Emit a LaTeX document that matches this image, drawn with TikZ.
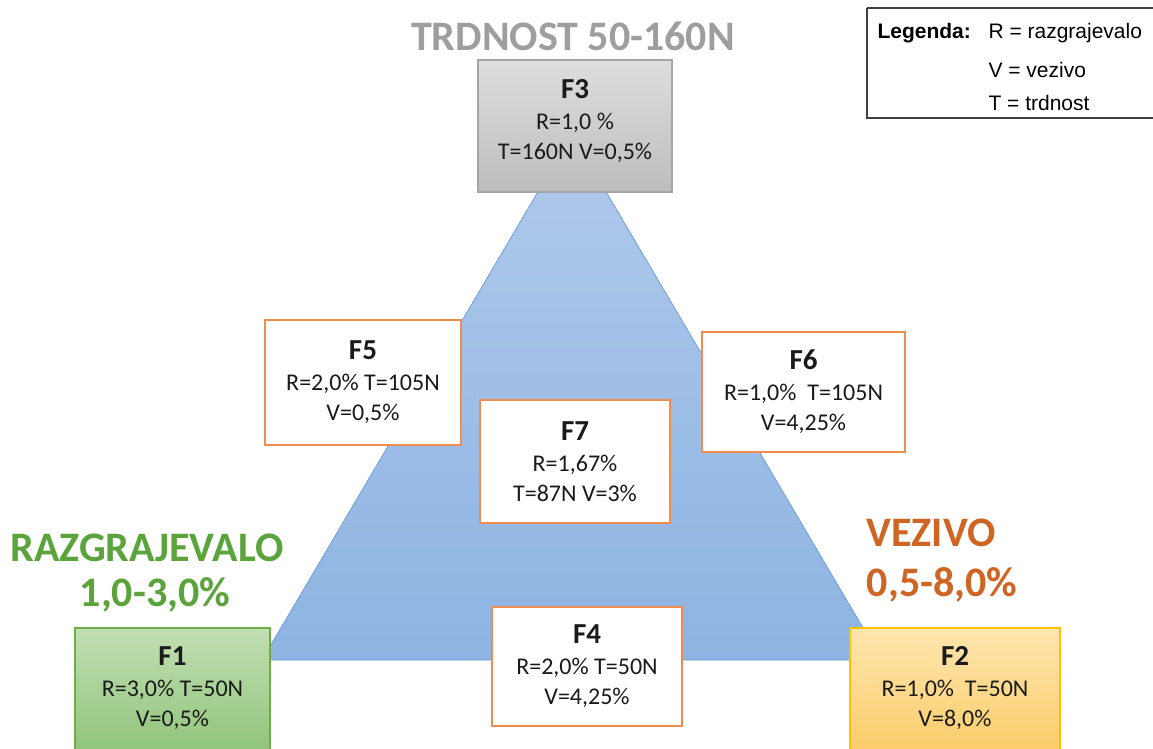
\documentclass[tikz,border=0pt]{standalone}
\usepackage{fontspec}
\setmainfont{Carlito}
\newfontfamily\arialf{Liberation Sans}
\definecolor{triTop}{HTML}{B0C9EB}
\definecolor{triBot}{HTML}{8DB4E2}
\definecolor{triLine}{HTML}{6F9FD8}
\definecolor{grTop}{HTML}{DEDEDE}
\definecolor{grBot}{HTML}{BDBDBD}
\definecolor{grLine}{HTML}{A5A5A5}
\definecolor{gnTop}{HTML}{C2DFB3}
\definecolor{gnBot}{HTML}{8FC47A}
\definecolor{gnLine}{HTML}{70AD47}
\definecolor{orTop}{HTML}{FEE6B0}
\definecolor{orBot}{HTML}{FBCC68}
\definecolor{orLine}{HTML}{FFC000}
\definecolor{boxLine}{HTML}{F08C4E}
\definecolor{titGray}{HTML}{9E9E9E}
\definecolor{titGreen}{HTML}{5BA33B}
\definecolor{titOrange}{HTML}{CF6523}
\definecolor{txt}{HTML}{1A1A1A}
\begin{document}
\begin{tikzpicture}[x=1pt,y=-1pt,
  fbox/.style={rectangle, align=center, inner sep=0pt, text=txt,
    font=\fontsize{24}{30}\selectfont, line width=1.3pt},
  wbox/.style={fbox, fill=white, draw=boxLine},
  title/.style={font=\bfseries\fontsize{42}{44}\selectfont},
  leg/.style={font=\arialf\fontsize{21}{24}\selectfont, anchor=west, text=black}
]
\newcommand{\fl}[1]{{\bfseries\fontsize{29}{34}\selectfont #1}\\[1pt]}
\useasboundingbox (0,0) rectangle (1153,749);
\fill[white] (0,0) rectangle (1153,749);

% triangle
\coordinate (apex) at (572,134);
\coordinate (bl) at (262,660);
\coordinate (br) at (882,660);
\shade[top color=triTop, bottom color=triBot, draw=triLine, line width=0.8pt]
  (apex) -- (bl) -- (br) -- cycle;

% corner boxes
\node[fbox, top color=grTop, bottom color=grBot, draw=grLine,
  minimum width=194pt, minimum height=132pt] (F3) at (575,126) {};
\node[fbox, anchor=center] (F3t) at (575,121)
  {\fl{F3}R=1,0 \%\\T=160N V=0,5\%};
\node[fbox, top color=gnTop, bottom color=gnBot, draw=gnLine,
  minimum width=195pt, minimum height=126pt] (F1) at (172.5,691) {};
\node[fbox] (F1t) at (172.5,688)
  {\fl{F1}R=3,0\% T=50N\\V=0,5\%};
\node[fbox, top color=orTop, bottom color=orBot, draw=orLine,
  minimum width=210pt, minimum height=126pt] (F2) at (955,691) {};
\node[fbox] (F2t) at (955,688)
  {\fl{F2}R=1,0\%\ \ T=50N\\V=8,0\%};

% inner boxes
\node[wbox, minimum width=190pt, minimum height=119pt] (F4) at (587,666.5)
  {\fl{F4}R=2,0\% T=50N\\V=4,25\%};
\node[wbox, minimum width=196pt, minimum height=125pt] (F5) at (363,382.5)
  {\fl{F5}R=2,0\% T=105N\\V=0,5\%};
\node[wbox, minimum width=203pt, minimum height=120pt] (F6) at (803.5,392)
  {\fl{F6}R=1,0\%\ \ T=105N\\V=4,25\%};
\node[wbox, minimum width=190pt, minimum height=123pt] (F7) at (575,461.5)
  {\fl{F7}R=1,67\%\\T=87N V=3\%};

% titles
\node[title, text=titGray] (tT) at (573,36) {TRDNOST 50-160N};
\node[title, text=titGreen] (tR1) at (147,548) {RAZGRAJEVALO};
\node[title, text=titGreen] (tR2) at (155,595) {1,0-3,0\%};
\node[title, text=titOrange] (tV1) at (931,533) {VEZIVO};
\node[title, text=titOrange] (tV2) at (942,585) {0,5-8,0\%};

% legend
\draw[black!75, line width=1.3pt] (867,8) -- (1155,8) (867,8) -- (867,118) -- (1155,118);
\node[leg, font=\arialf\bfseries\fontsize{21}{24}\selectfont] (lg) at (874,33) {Legenda:};
\node[leg] (l1) at (985,33) {R = razgrajevalo};
\node[leg] (l2) at (985,70) {V = vezivo};
\node[leg] (l3) at (985,103) {T = trdnost};
\end{tikzpicture}
\end{document}
